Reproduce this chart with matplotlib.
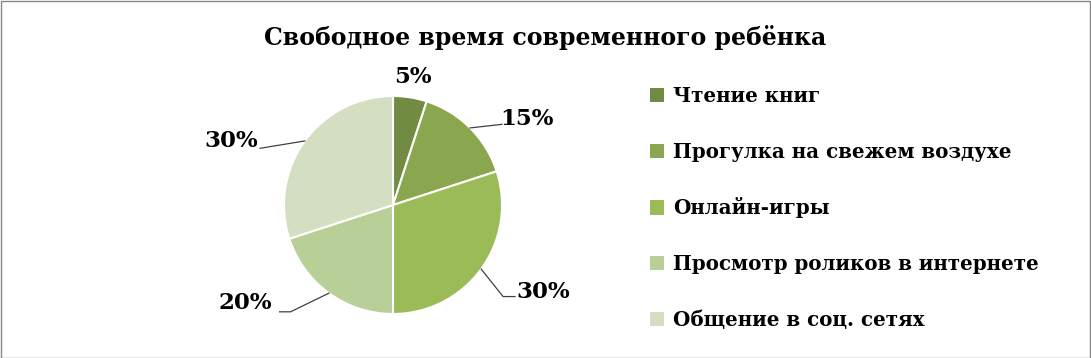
import numpy as np
import matplotlib.pyplot as plt
from matplotlib.patches import Rectangle

labels = ['Чтение книг', 'Прогулка на свежем воздухе', 'Онлайн-игры',
          'Просмотр роликов в интернете', 'Общение в соц. сетях']
values = [5, 15, 30, 20, 30]
colors = ['#718B42', '#8AA64E', '#9BBB59', '#B8CF98', '#D3DFC0']

plt.rcParams['font.family'] = ['DejaVu Serif']
plt.rcParams['font.weight'] = 'bold'

W, H = 1091, 358
fig = plt.figure(figsize=(W / 100, H / 100), dpi=100)

# pie axes: center (393, 205) px, radius 109 px
cx, cy, r = 393, 205, 109
span = 1.5
ax = fig.add_axes([(cx - span * r) / W, (H - cy - span * r) / H,
                   2 * span * r / W, 2 * span * r / H])

wedges, _ = ax.pie(values, colors=colors, startangle=90, counterclock=False,
                   radius=1, center=(0, 0), frame=True,
                   wedgeprops=dict(edgecolor='white', linewidth=1.5))
ax.set_xlim(-span, span)
ax.set_ylim(-span, span)
ax.axis('off')

# label text positions and leader elbows (layout)
text_pos = [(0.18, 1.17), (1.23, 0.79), (1.38, -0.80), (-1.36, -0.90), (-1.48, 0.59)]
elbows = [None, [(1.0, 0.74)], [(1.01, -0.84), (1.12, -0.84)],
          [(-0.94, -0.98), (-1.04, -0.98)], [(-1.22, 0.52)]]

for w, v, tp, el in zip(wedges, values, text_pos, elbows):
    ang = np.deg2rad((w.theta1 + w.theta2) / 2)
    ex, ey = np.cos(ang), np.sin(ang)
    if el is not None:
        pts = [(ex, ey)] + el
        ax.plot([p[0] for p in pts], [p[1] for p in pts], color='#404040',
                lw=0.9, clip_on=False)
    ax.text(tp[0], tp[1], f'{v}%', ha='center', va='center', fontsize=16.5,
            fontweight='bold', color='black')

fig.text(545 / W, 1 - 38 / H, 'Свободное время современного ребёнка',
         ha='center', va='center', fontsize=17, fontweight='bold', color='black')

handles = [Rectangle((0, 0), 1, 1, facecolor=c) for c in colors]
fig.legend(handles, labels, loc='upper left', bbox_to_anchor=(650 / W, 1 - 86 / H),
           frameon=False, handlelength=0.72, handleheight=0.72,
           handletextpad=0.45, labelspacing=1.8, borderpad=0, borderaxespad=0,
           prop=dict(family=['DejaVu Serif'], weight='bold', size=14.3))

fig.add_artist(Rectangle((0.5 / W, 0.5 / H), 1 - 1.5 / W, 1 - 1.5 / H,
                         transform=fig.transFigure, fill=False,
                         edgecolor='#868686', lw=1))

fig.savefig('out.png', dpi=100)
